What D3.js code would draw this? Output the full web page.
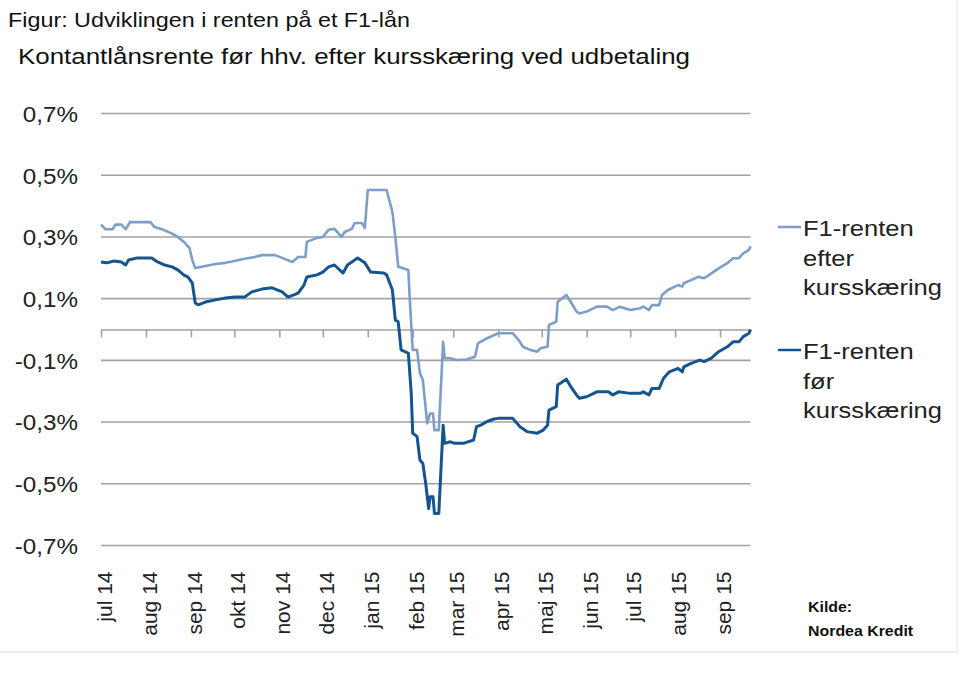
<!DOCTYPE html>
<html>
<head>
<meta charset="utf-8">
<script src="https://cdn.jsdelivr.net/npm/d3@7"></script>
<style>
  body { margin: 0; background: #fff; }
  svg { display: block; font-family: "Liberation Sans", Arial, sans-serif; }
</style>
</head>
<body>
<svg id="chart" width="960" height="678"></svg>
<script>
// F1-renten efter kursskæring (lys blå)
var efterData = [
  ["2014-07-01",0.34],["2014-07-04",0.325],["2014-07-09",0.325],["2014-07-11",0.34],["2014-07-15",0.34],
  ["2014-07-18",0.325],["2014-07-21",0.348],["2014-08-04",0.348],["2014-08-07",0.332],["2014-08-13",0.323],
  ["2014-08-18",0.313],["2014-08-23",0.30],["2014-08-28",0.28],["2014-08-31",0.264],["2014-09-02",0.225],
  ["2014-09-04",0.199],["2014-09-11",0.206],["2014-09-18",0.212],["2014-09-25",0.216],["2014-10-01",0.222],
  ["2014-10-08",0.229],["2014-10-15",0.235],["2014-10-20",0.241],["2014-10-29",0.241],["2014-11-03",0.232],
  ["2014-11-10",0.219],["2014-11-14",0.235],["2014-11-19",0.235],["2014-11-20",0.284],["2014-11-27",0.297],
  ["2014-12-01",0.30],["2014-12-05",0.323],["2014-12-09",0.326],["2014-12-14",0.30],["2014-12-16",0.316],
  ["2014-12-21",0.326],["2014-12-23",0.345],["2014-12-28",0.345],["2014-12-30",0.329],["2015-01-01",0.452],
  ["2015-01-14",0.452],["2015-01-18",0.381],["2015-01-20",0.30],["2015-01-22",0.203],["2015-01-25",0.199],
  ["2015-01-29",0.193],["2015-01-30",0.096],["2015-02-01",-0.066],["2015-02-04",-0.066],["2015-02-06",-0.142],
  ["2015-02-08",-0.164],["2015-02-11",-0.304],["2015-02-13",-0.272],["2015-02-15",-0.272],["2015-02-16",-0.326],
  ["2015-02-19",-0.326],["2015-02-22",-0.04],["2015-02-23",-0.093],["2015-02-27",-0.093],["2015-03-03",-0.099],
  ["2015-03-10",-0.097],["2015-03-16",-0.088],["2015-03-18",-0.045],["2015-03-24",-0.029],["2015-04-01",-0.012],
  ["2015-04-11",-0.012],["2015-04-16",-0.04],["2015-04-18",-0.056],["2015-04-23",-0.066],["2015-04-28",-0.072],
  ["2015-04-30",-0.061],["2015-05-05",-0.056],["2015-05-06",0.015],["2015-05-11",0.025],["2015-05-12",0.09],
  ["2015-05-18",0.112],["2015-05-21",0.09],["2015-05-25",0.058],["2015-05-27",0.052],["2015-06-01",0.058],
  ["2015-06-08",0.074],["2015-06-15",0.074],["2015-06-19",0.063],["2015-06-24",0.074],["2015-07-01",0.063],
  ["2015-07-08",0.069],["2015-07-10",0.074],["2015-07-14",0.063],["2015-07-16",0.079],["2015-07-21",0.079],
  ["2015-07-23",0.112],["2015-07-27",0.128],["2015-08-03",0.144],["2015-08-06",0.139],["2015-08-07",0.15],
  ["2015-08-12",0.16],["2015-08-17",0.171],["2015-08-21",0.166],["2015-08-26",0.182],["2015-08-31",0.198],
  ["2015-09-06",0.215],["2015-09-10",0.231],["2015-09-14",0.231],["2015-09-17",0.247],["2015-09-21",0.258],
  ["2015-09-22",0.27]
];

// F1-renten før kursskæring (mørk blå)
var forData = [
  ["2014-07-01",0.219],["2014-07-05",0.216],["2014-07-10",0.222],["2014-07-15",0.219],["2014-07-18",0.209],
  ["2014-07-20",0.225],["2014-07-26",0.232],["2014-08-05",0.232],["2014-08-09",0.219],["2014-08-14",0.209],
  ["2014-08-19",0.203],["2014-08-23",0.193],["2014-08-27",0.177],["2014-08-30",0.17],["2014-09-02",0.15],
  ["2014-09-04",0.086],["2014-09-06",0.08],["2014-09-11",0.089],["2014-09-18",0.096],["2014-09-25",0.102],
  ["2014-10-01",0.105],["2014-10-08",0.105],["2014-10-13",0.122],["2014-10-20",0.131],["2014-10-27",0.135],
  ["2014-11-03",0.122],["2014-11-07",0.105],["2014-11-11",0.112],["2014-11-14",0.118],["2014-11-18",0.144],
  ["2014-11-20",0.17],["2014-11-27",0.177],["2014-12-01",0.186],["2014-12-05",0.203],["2014-12-09",0.209],
  ["2014-12-15",0.183],["2014-12-18",0.209],["2014-12-23",0.225],["2014-12-25",0.232],["2014-12-30",0.216],
  ["2015-01-03",0.186],["2015-01-12",0.183],["2015-01-14",0.177],["2015-01-18",0.128],["2015-01-20",0.031],
  ["2015-01-22",0.025],["2015-01-24",-0.066],["2015-01-29",-0.077],["2015-01-31",-0.207],["2015-02-01",-0.336],
  ["2015-02-04",-0.347],["2015-02-06",-0.423],["2015-02-08",-0.434],["2015-02-10",-0.50],["2015-02-12",-0.58],
  ["2015-02-13",-0.542],["2015-02-15",-0.542],["2015-02-16",-0.596],["2015-02-19",-0.596],["2015-02-22",-0.31],
  ["2015-02-23",-0.369],["2015-02-27",-0.364],["2015-03-02",-0.369],["2015-03-08",-0.369],["2015-03-11",-0.364],
  ["2015-03-15",-0.358],["2015-03-17",-0.315],["2015-03-20",-0.31],["2015-03-24",-0.299],["2015-03-29",-0.29],
  ["2015-04-01",-0.288],["2015-04-11",-0.288],["2015-04-16",-0.315],["2015-04-21",-0.331],["2015-04-28",-0.336],
  ["2015-05-02",-0.326],["2015-05-05",-0.31],["2015-05-06",-0.261],["2015-05-11",-0.25],["2015-05-12",-0.18],
  ["2015-05-18",-0.161],["2015-05-21",-0.185],["2015-05-25",-0.212],["2015-05-27",-0.223],["2015-06-01",-0.218],
  ["2015-06-08",-0.202],["2015-06-16",-0.202],["2015-06-19",-0.212],["2015-06-23",-0.202],["2015-07-01",-0.207],
  ["2015-07-08",-0.207],["2015-07-10",-0.202],["2015-07-14",-0.212],["2015-07-16",-0.191],["2015-07-21",-0.191],
  ["2015-07-24",-0.158],["2015-07-28",-0.137],["2015-08-03",-0.126],["2015-08-06",-0.137],["2015-08-07",-0.121],
  ["2015-08-12",-0.11],["2015-08-18",-0.099],["2015-08-21",-0.104],["2015-08-26",-0.093],["2015-08-31",-0.072],
  ["2015-09-06",-0.056],["2015-09-10",-0.04],["2015-09-14",-0.04],["2015-09-17",-0.023],["2015-09-21",-0.012],
  ["2015-09-22",0.0]
];

var yTicks = [0.7, 0.5, 0.3, 0.1, -0.1, -0.3, -0.5, -0.7];
var monthNames = ["jan","feb","mar","apr","maj","jun","jul","aug","sep","okt","nov","dec"];
var dateRange = ["2014-07-01", "2015-09-22"];

var legendItems = [
  {lines: ["F1-renten", "efter", "kursskæring"], color: "#7d9ec8"},
  {lines: ["F1-renten", "før", "kursskæring"], color: "#145490"}
];

var svg = d3.select("#chart");
var parse = d3.timeParse("%Y-%m-%d");

var da = d3.timeFormatLocale({
  dateTime: "%A %e %B %Y %X", date: "%d.%m.%Y", time: "%H:%M:%S",
  periods: ["", ""], days: ["søndag","mandag","tirsdag","onsdag","torsdag","fredag","lørdag"],
  shortDays: ["søn","man","tir","ons","tor","fre","lør"],
  months: monthNames, shortMonths: monthNames
});

var x = d3.scaleTime().domain(dateRange.map(parse)).range([101, 750.5]);
var y = d3.scaleLinear().domain([-0.7, 0.7]).range([545.5, 113.5]);

// stretch text a bit horizontally, the picture is wider than normal
function stretch(sel, k) {
  sel.each(function() {
    var t = d3.select(this);
    var w = this.getComputedTextLength();
    t.attr("textLength", w * k).attr("lengthAdjust", "spacingAndGlyphs");
  });
}

// titles
svg.append("text").attr("x", 8).attr("y", 27).attr("font-size", 21).attr("fill", "#111")
  .text("Figur: Udviklingen i renten på et F1-lån").attr("textLength", 402).attr("lengthAdjust", "spacingAndGlyphs");
svg.append("text").attr("x", 18).attr("y", 64).attr("font-size", 22).attr("fill", "#111")
  .text("Kontantlånsrente før hhv. efter kursskæring ved udbetaling").attr("textLength", 672).attr("lengthAdjust", "spacingAndGlyphs");

// gridlines
svg.append("g").selectAll("line").data(yTicks).join("line")
  .attr("x1", 101).attr("x2", 750.5)
  .attr("y1", function(d){ return y(d); }).attr("y2", function(d){ return y(d); })
  .attr("stroke", "#a2a2a2").attr("stroke-width", 1.6);

// y labels
var yAxis = svg.append("g").attr("transform", "translate(78,0)")
  .call(d3.axisLeft(y).tickValues(yTicks).tickSize(0).tickPadding(0)
    .tickFormat(function(d){ return d.toFixed(1).replace(".", ",") + "%"; }));
yAxis.select(".domain").remove();
yAxis.selectAll("text").attr("font-size", 22).attr("fill", "#222")
  .attr("font-family", "Liberation Sans, Arial, sans-serif")
  .attr("dy", "0.36em").attr("transform", "scale(1.1,1)");

// x axis at zero with month ticks
var months = d3.timeMonth.range(parse("2014-07-01"), parse("2015-09-02"));
var xAxis = svg.append("g").attr("transform", "translate(0," + y(0) + ")")
  .call(d3.axisBottom(x).tickValues(months).tickSizeInner(8).tickSizeOuter(0).tickFormat(""));
xAxis.select(".domain").attr("stroke", "#a2a2a2").attr("stroke-width", 1.6);
xAxis.selectAll(".tick line").attr("stroke", "#a2a2a2").attr("stroke-width", 1.6);

// month labels under the chart, rotated
var fmt = da.format("%b %y");
var xLab = svg.append("g").attr("transform", "translate(3," + y(-0.7) + ")")
  .call(d3.axisBottom(x).tickValues(months).tickSize(0).tickFormat(fmt));
xLab.select(".domain").remove();
xLab.selectAll("text").attr("font-size", 21).attr("fill", "#222")
  .attr("font-family", "Liberation Sans, Arial, sans-serif")
  .attr("text-anchor", "end").attr("transform", "rotate(-90)")
  .attr("x", -26).attr("y", 0).attr("dy", "0.36em");

// lines
var line = d3.line()
  .x(function(d){ return x(parse(d[0])); })
  .y(function(d){ return y(d[1]); });

svg.append("path").datum(efterData).attr("d", line)
  .attr("fill", "none").attr("stroke", legendItems[0].color).attr("stroke-width", 2.6).attr("stroke-linejoin", "round");
svg.append("path").datum(forData).attr("d", line)
  .attr("fill", "none").attr("stroke", legendItems[1].color).attr("stroke-width", 3).attr("stroke-linejoin", "round");

// legend
var leg = svg.append("g").selectAll("g").data(legendItems).join("g")
  .attr("transform", function(d, i){ return "translate(778," + (227 + i * 123) + ")"; });
leg.append("line").attr("x1", 0).attr("x2", 23).attr("y1", 0).attr("y2", 0)
  .attr("stroke", function(d){ return d.color; }).attr("stroke-width", 2.5);
leg.each(function(d) {
  var g = d3.select(this);
  d.lines.forEach(function(s, j) {
    g.append("text").attr("x", 25).attr("y", 9 + j * 29.5).attr("font-size", 22).attr("fill", "#222")
      .text(s).call(stretch, 1.16);
  });
});

// source
svg.append("text").attr("x", 808).attr("y", 612).attr("font-size", 15).attr("font-weight", "bold").attr("fill", "#111")
  .text("Kilde:").call(stretch, 1.06);
svg.append("text").attr("x", 808).attr("y", 636).attr("font-size", 15).attr("font-weight", "bold").attr("fill", "#111")
  .text("Nordea Kredit").call(stretch, 1.06);

// faint frame lines
svg.append("line").attr("x1", 0).attr("x2", 958).attr("y1", 652).attr("y2", 652).attr("stroke", "#ececec").attr("stroke-width", 2);
svg.append("line").attr("x1", 957).attr("x2", 957).attr("y1", 0).attr("y2", 652).attr("stroke", "#f0f0f0").attr("stroke-width", 2);
</script>
</body>
</html>
